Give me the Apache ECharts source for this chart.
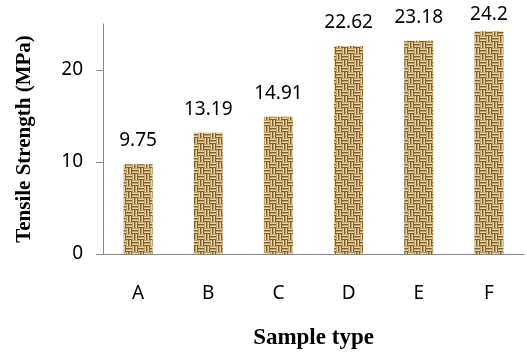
<!DOCTYPE html>
<html style="height: 100%">
<head>
	<meta charset="utf-8">
</head>
<body style="height: 100%; margin: 0; background: #fff">
<div id="container" style="height: 100%"></div>
<script type="text/javascript" src="https://cdn.jsdelivr.net/npm/echarts@6/dist/echarts.min.js"></script>
<script type="text/javascript">
    var sampleTypes = ['A', 'B', 'C', 'D', 'E', 'F'];
    var strengths = [9.75, 13.19, 14.91, 22.62, 23.18, 24.2];
    var yTicks = [0, 10, 20];

    // basket-weave "burlap" tile used as the bar fill
    function makeBurlap() {
        var c = document.createElement('canvas');
        c.width = 12;
        c.height = 12;
        var ctx = c.getContext('2d');
        var shades = ['#c0a169', '#e8d4a2', '#7e5f33'];
        for (var by = 0; by < 2; by++) {
            for (var bx = 0; bx < 2; bx++) {
                var horiz = (bx + by) % 2 === 0;
                for (var s = 0; s < 2; s++) {
                    for (var k = 0; k < 3; k++) {
                        ctx.fillStyle = shades[k];
                        if (horiz) {
                            ctx.fillRect(bx * 6, by * 6 + s * 3 + k, 6, 1);
                        } else {
                            ctx.fillRect(bx * 6 + s * 3 + k, by * 6, 1, 6);
                        }
                    }
                }
            }
        }
        return c;
    }

    var barData = strengths.map(function (v, i) {
        // the last label sits closer to its bar, as in the original
        if (i === strengths.length - 1) {
            return { value: v, label: { distance: 7 } };
        }
        return v;
    });

    var dom = document.getElementById("container");
    var myChart = echarts.init(dom);
    var axisGray = '#868686';

    var option = {
        backgroundColor: '#fff',
        animation: false,
        grid: {
            left: 103,
            right: 3,
            top: 24,
            bottom: 107
        },
        xAxis: {
            type: 'category',
            data: sampleTypes,
            name: 'Sample type',
            nameLocation: 'middle',
            nameGap: 73,
            nameTextStyle: {
                fontFamily: 'Liberation Serif',
                fontWeight: 'bold',
                fontSize: 23,
                color: '#000'
            },
            axisLine: { lineStyle: { color: axisGray } },
            axisTick: { length: 8, lineStyle: { color: axisGray } },
            axisLabel: {
                margin: 30,
                fontFamily: 'Noto Sans',
                fontSize: 19,
                color: '#000'
            }
        },
        yAxis: {
            type: 'value',
            min: 0,
            max: 25,
            interval: 10,
            name: 'Tensile Strength (MPa)',
            nameLocation: 'middle',
            nameGap: 68,
            nameTextStyle: {
                fontFamily: 'Liberation Serif',
                fontWeight: 'bold',
                fontSize: 21,
                color: '#000'
            },
            splitLine: { show: false },
            axisLine: { show: true, lineStyle: { color: axisGray } },
            axisTick: { show: true, length: 7, customValues: yTicks, lineStyle: { color: axisGray } },
            axisLabel: {
                customValues: yTicks,
                margin: 20,
                fontFamily: 'Noto Sans',
                fontSize: 19,
                color: '#000'
            }
        },
        series: [
            {
                type: 'bar',
                data: barData,
                barWidth: 29,
                itemStyle: {
                    color: { image: makeBurlap(), repeat: 'repeat' }
                },
                label: {
                    show: true,
                    position: 'top',
                    distance: 14,
                    fontFamily: 'Noto Sans',
                    fontSize: 19,
                    color: '#000'
                }
            }
        ]
    };

    myChart.setOption(option);
    window.addEventListener('resize', function () {
        myChart.resize();
    });
</script>
</body>
</html>
